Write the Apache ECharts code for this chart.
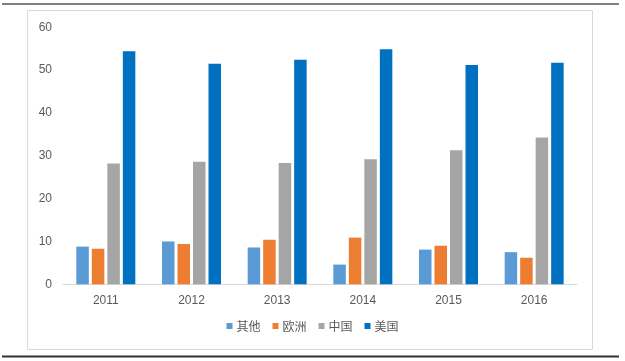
<!DOCTYPE html>
<html>
<head>
<meta charset="utf-8">
<script src="https://cdn.jsdelivr.net/npm/echarts@6/dist/echarts.min.js"></script>
<style>
html,body{margin:0;padding:0;background:#fff;}
#main{width:625px;height:361px;}
</style>
</head>
<body>
<div id="main"></div>
<script>
var categories = ['2011', '2012', '2013', '2014', '2015', '2016'];
var seriesNames = ['其他', '欧洲', '中国', '美国'];
var otherValues = [8.8, 10.0, 8.6, 4.6, 8.1, 7.5];
var europeValues = [8.3, 9.4, 10.4, 10.9, 9.0, 6.2];
var chinaValues = [28.2, 28.6, 28.3, 29.2, 31.3, 34.3];
var usaValues = [54.4, 51.5, 52.4, 54.9, 51.2, 51.7];
var yTicks = [0, 10, 20, 30, 40, 50, 60];

var colors = ['#5B9BD5', '#ED7D31', '#A5A5A5', '#0070C0'];
var allValues = [otherValues, europeValues, chinaValues, usaValues];

var chart = echarts.init(document.getElementById('main'), null, {renderer: 'canvas'});
var series = seriesNames.map(function (n, i) {
  return {
    name: n,
    type: 'bar',
    data: allValues[i],
    barWidth: 12.5,
    barGap: '24%',
    itemStyle: {color: colors[i]}
  };
});

chart.setOption({
  animation: false,
  color: colors,
  textStyle: {fontFamily: 'Liberation Sans, Arial, sans-serif'},
  graphic: [
    {type: 'line', shape: {x1: 2, y1: 4, x2: 619, y2: 4}, style: {stroke: '#7f7f7f', lineWidth: 2}, silent: true},
    {type: 'rect', shape: {x: 27.5, y: 10.5, width: 565, height: 339}, style: {fill: 'none', stroke: '#d9d9d9', lineWidth: 1}, silent: true, z: -1},
    {type: 'line', shape: {x1: 2, y1: 356.5, x2: 619, y2: 356.5}, style: {stroke: '#333333', lineWidth: 2}, silent: true}
  ],
  grid: {left: 63, right: 48, top: 27.3, bottom: 76.7, containLabel: false},
  legend: {
    data: seriesNames,
    bottom: 24,
    left: 'center',
    itemWidth: 6,
    itemHeight: 6,
    itemGap: 12,
    icon: 'rect',
    textStyle: {color: '#595959', fontSize: 12, fontFamily: 'Noto Sans CJK SC', padding: [0, 0, 0, -1]}
  },
  xAxis: {
    type: 'category',
    data: categories,
    axisLine: {lineStyle: {color: '#d9d9d9', width: 1}},
    axisTick: {show: false},
    axisLabel: {color: '#595959', fontSize: 12, margin: 10}
  },
  yAxis: {
    type: 'value',
    min: yTicks[0],
    max: yTicks[yTicks.length - 1],
    interval: 10,
    splitLine: {show: false},
    axisLine: {show: false},
    axisTick: {show: false},
    axisLabel: {color: '#595959', fontSize: 12, margin: 11}
  },
  series: series
});
</script>
</body>
</html>
